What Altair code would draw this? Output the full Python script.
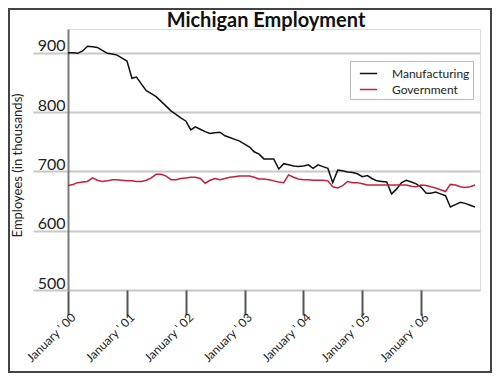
import altair as alt
import pandas as pd

months = [f"{2000 + i // 12}-{i % 12 + 1:02d}-01" for i in range(84)]

manufacturing = [
    900, 900, 899, 903, 911, 910, 909, 904, 899, 898, 896, 891,
    886, 857, 859, 847, 836, 831, 826, 818, 810, 802, 796, 790,
    785, 770, 775, 771, 767, 764, 765, 766, 760, 757, 754, 751,
    746, 741, 733, 729, 721, 721, 721, 704, 713, 711, 709, 708,
    709, 711, 705, 711, 708, 705, 681, 702, 701, 699, 698, 696,
    691, 693, 688, 684, 683, 682, 662, 670, 681, 685, 682, 679,
    673, 663, 663, 665, 662, 659, 640, 644, 648, 646, 643, 640,
]

government = [
    676, 678, 681, 682, 683, 689, 685, 683, 684, 686, 686, 685,
    684, 684, 683, 683, 685, 689, 695, 695, 692, 686, 686, 688,
    689, 690, 690, 688, 680, 685, 688, 686, 688, 690, 691, 692,
    692, 692, 690, 687, 687, 686, 684, 682, 681, 694, 690, 687,
    686, 686, 685, 685, 685, 684, 674, 672, 676, 683, 681, 681,
    679, 677, 677, 677, 677, 677, 677, 677, 677, 677, 675, 674,
    677, 676, 674, 672, 669, 666, 678, 677, 674, 673, 674, 677,
]

series_names = ["Manufacturing", "Government"]
series_colors = ["#111111", "#c8203a"]
y_ticks = [500, 600, 700, 800, 900]
x_ticks = [f"{y}-01-01" for y in range(2000, 2007)]
chart_title = "Michigan Employment"

rows = []
for d, m, g in zip(months, manufacturing, government):
    rows.append({"date": d, "series": "Manufacturing", "value": m})
    rows.append({"date": d, "series": "Government", "value": g})
df = pd.DataFrame(rows)

FONT = "Lato"

x_enc = alt.X(
    "date:T",
    scale=alt.Scale(
        type="utc",
        domain=[alt.DateTime(year=2000, month=1, date=1, utc=True),
                alt.DateTime(year=2007, month=1, date=1, utc=True)],
    ),
    axis=alt.Axis(
        title=None,
        values=[alt.DateTime(year=int(v[:4]), month=1, date=1, utc=True) for v in x_ticks],
        labelExpr="\"January ' \" + utcFormat(datum.value, '%y')",
        labelAngle=-45,
        labelAlign="right",
        labelBaseline="middle",
        labelFont=FONT,
        labelFontSize=12,
        labelColor="#222222",
        labelPadding=0,
        labelOffset=5,
        tickSize=25,
        tickWidth=2,
        tickColor="#555555",
        domain=False,
        grid=False,
    ),
)

y_enc = alt.Y(
    "value:Q",
    scale=alt.Scale(domain=[500, 940], nice=False, zero=False),
    axis=alt.Axis(
        title="Employees (in thousands)",
        titleFont=FONT,
        titleFontSize=13,
        titleFontWeight="normal",
        titleColor="#222222",
        titleAngle=270,
        titleX=-51,
        titleY=136,
        titleAlign="center",
        titleBaseline="middle",
        values=y_ticks,
        labelFont=FONT,
        labelFontSize=16,
        labelColor="#222222",
        labelBaseline="alphabetic",
        labelOffset=-2,
        labelPadding=-32,
        tickSize=35,
        tickWidth=2,
        tickColor="#c8c8c8",
        grid=True,
        gridColor="#c8c8c8",
        gridWidth=2,
        domainColor="#7a7a7a",
        domainWidth=2,
    ),
)

lines = alt.Chart(df).mark_line(strokeWidth=1.5).encode(
    x=x_enc,
    y=y_enc,
    color=alt.Color(
        "series:N",
        scale=alt.Scale(domain=series_names, range=series_colors),
        sort=series_names,
        legend=alt.Legend(
            title=None,
            orient="none",
            legendX=282,
            legendY=32,
            fillColor="white",
            strokeColor="#bbbbbb",
            padding=3,
            symbolType="stroke",
            symbolSize=300,
            symbolOffset=6,
            symbolStrokeWidth=1.5,
            labelFont=FONT,
            labelFontSize=12,
            labelColor="#222222",
            labelOffset=14,
            rowPadding=0,
        ),
    ),
)

title_mark = alt.Chart(alt.Data(values=[{"t": chart_title}])).mark_text(
    font=FONT, fontSize=20, fontWeight="bold", color="#111111",
    align="center", baseline="alphabetic"
).encode(text="t:N", x=alt.value(198), y=alt.value(-2))

border = alt.Chart(alt.Data(values=[{"a": 1}])).mark_rect(
    fill=None, stroke="#444444", strokeWidth=2
).encode(
    x=alt.value(-59), x2=alt.value(423), y=alt.value(-20), y2=alt.value(343)
)

chart = alt.layer(lines, title_mark, border).properties(
    width=412,
    height=261,
    padding={"left": 60, "top": 21, "right": 12, "bottom": 83},
    autosize="none",
).configure_view(stroke=None).configure_legend(strokeWidth=2).configure(background="white")

chart.save("out.html", embed_options={"renderer": "svg", "actions": False})
